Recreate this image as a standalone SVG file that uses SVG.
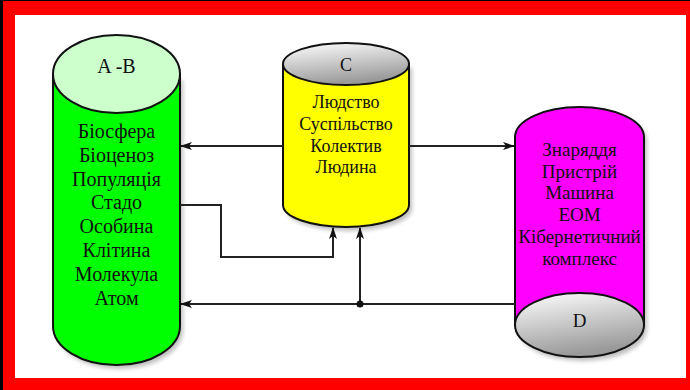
<svg xmlns="http://www.w3.org/2000/svg" width="690" height="390" viewBox="0 0 690 390">
<style>
.lbl{font-family:"Liberation Serif","Times New Roman",serif;font-size:19px;fill:#111;text-anchor:middle}
.g{font-size:20px}
.y{font-size:18px}
.outline{stroke:#111;stroke-width:2}
.conn{fill:none;stroke:#222;stroke-width:2}
</style>
<defs>
<linearGradient id="gray" x1="0" y1="0" x2="0.3" y2="1">
<stop offset="0" stop-color="#ffffff"/>
<stop offset="1" stop-color="#9a9a9a"/>
</linearGradient>
<marker id="arr" markerUnits="userSpaceOnUse" markerWidth="12" markerHeight="8" refX="11" refY="4" orient="auto">
<path d="M0,0 L12,4 L0,8 L3,4 Z" fill="#111"/>
</marker>
<filter id="sh" x="-20%" y="-20%" width="140%" height="140%">
<feGaussianBlur stdDeviation="2"/>
</filter>
</defs>
<rect x="0" y="0" width="690" height="390" fill="#000"/>
<rect x="3" y="1" width="687" height="389" fill="#ff0000"/>
<rect x="15" y="15" width="671" height="363" fill="#ffffff"/>

<g id="nodeAB">
<path d="M56,80 L56,330 A63.5,39 0 0 0 183,330 L183,80 Z" fill="#000" opacity="0.25" filter="url(#sh)"/>
<path d="M53,74 L53,326 A63.5,39 0 0 0 180,326 L180,74 Z" fill="#00ff00" class="outline"/>
<ellipse cx="116.5" cy="74" rx="63.5" ry="39" fill="#ccffcc" class="outline"/>
<text class="lbl g" x="116.5" y="73">A -B</text>
<text class="lbl g" x="116.5" y="138">Біосфера</text>
<text class="lbl g" x="116.5" y="162">Біоценоз</text>
<text class="lbl g" x="116.5" y="186">Популяція</text>
<text class="lbl g" x="116.5" y="209">Стадо</text>
<text class="lbl g" x="116.5" y="233">Особина</text>
<text class="lbl g" x="116.5" y="257">Клітина</text>
<text class="lbl g" x="116.5" y="281">Молекула</text>
<text class="lbl g" x="116.5" y="305">Атом</text>
</g>

<g id="nodeC">
<path d="M286,68 L286,209 A63,22 0 0 0 412,209 L412,68 Z" fill="#000" opacity="0.25" filter="url(#sh)"/>
<path d="M283,64 L283,205 A63,22 0 0 0 409,205 L409,64 Z" fill="#ffff00" class="outline"/>
<ellipse cx="346" cy="64" rx="63" ry="21" fill="url(#gray)" class="outline"/>
<text class="lbl y" x="346" y="71">C</text>
<text class="lbl y" x="346" y="108">Людство</text>
<text class="lbl y" x="346" y="130">Суспільство</text>
<text class="lbl y" x="346" y="152">Колектив</text>
<text class="lbl y" x="346" y="173">Людина</text>
</g>

<g id="nodeD">
<path d="M518,141 A64.5,30 0 0 1 647,141 L647,329 A64.5,32 0 0 1 518,329 Z" fill="#000" opacity="0.25" filter="url(#sh)"/>
<path d="M515,137 A64.5,30 0 0 1 644,137 L644,325 L515,325 Z" fill="#ff00ff" class="outline"/>
<ellipse cx="579.5" cy="325" rx="64.5" ry="32" fill="url(#gray)" class="outline"/>
<text class="lbl" x="579.5" y="156">Знаряддя</text>
<text class="lbl" x="579.5" y="178">Пристрій</text>
<text class="lbl" x="579.5" y="199">Машина</text>
<text class="lbl" x="579.5" y="221">ЕОМ</text>
<text class="lbl" x="579.5" y="243">Кібернетичний</text>
<text class="lbl" x="579.5" y="265">комплекс</text>
<text class="lbl" x="579.5" y="327">D</text>
</g>

<g id="connectors">
<path class="conn" d="M283,146 H181" marker-end="url(#arr)"/>
<path class="conn" d="M409,146 H514" marker-end="url(#arr)"/>
<path class="conn" d="M180,205 H221 V257 H333 V228" marker-end="url(#arr)"/>
<path class="conn" d="M515,304 H181" marker-end="url(#arr)"/>
<path class="conn" d="M360,304 V228" marker-end="url(#arr)"/>
<circle cx="360" cy="304" r="3.5" fill="#111"/>
</g>
</svg>
